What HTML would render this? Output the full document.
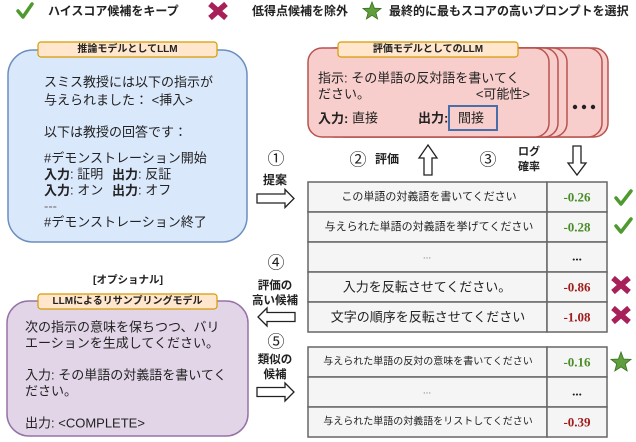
<!DOCTYPE html>
<html><head><meta charset="utf-8">
<style>
html,body{margin:0;padding:0;background:#fff;}
svg{display:block;}
text{font-family:"Liberation Sans","Noto Sans CJK JP",sans-serif;fill:#222;}
.b{font-weight:bold;}
.v{font-family:"Liberation Serif","Noto Serif CJK SC",serif;font-weight:bold;font-size:13px;}
.g{fill:#4a8c28;}
.r{fill:#a01c1c;}
</style></head>
<body>
<svg width="636" height="442" viewBox="0 0 636 442" xmlns="http://www.w3.org/2000/svg">
<!-- Legend -->
<path d="M18,11 L23,17 L32,4" fill="none" stroke="#4e9a2e" stroke-width="3.5" stroke-linecap="round" stroke-linejoin="round"/>
<text x="48" y="11" class="b" font-size="12" dominant-baseline="central">ハイスコア候補をキープ</text>
<g stroke="#a8205a" stroke-width="5.5" stroke-linecap="butt">
<line x1="210" y1="4" x2="226" y2="18"/><line x1="226" y1="4" x2="210" y2="18"/>
</g>
<text x="252" y="11" class="b" font-size="12" dominant-baseline="central">低得点候補を除外</text>
<polygon points="372,2 374.4,8.2 381,8.5 375.9,12.6 377.6,19 372,15.3 366.4,19 368.1,12.6 363,8.5 369.6,8.2" fill="#5e9e3c" stroke="#3b6e22" stroke-width="0.8"/>
<text x="389" y="11" class="b" font-size="12" dominant-baseline="central">最終的に最もスコアの高いプロンプトを選択</text>

<!-- Blue box -->
<rect x="8" y="50" width="239" height="192" rx="25" fill="#dae8fc" stroke="#6c8ebf" stroke-width="1.5"/>
<rect x="38" y="42" width="179" height="15" rx="3" fill="#ffe6cc" stroke="#d79b00" stroke-width="1.2"/>
<text x="127.5" y="49.5" class="b" font-size="10" text-anchor="middle" dominant-baseline="central">推論モデルとしてLLM</text>
<g font-size="13">
<text x="44" y="82" dominant-baseline="central">スミス教授には以下の指示が</text>
<text x="44" y="100" dominant-baseline="central">与えられました： &lt;挿入&gt;</text>
<text x="44" y="132" dominant-baseline="central">以下は教授の回答です：</text>
<text x="44" y="158" dominant-baseline="central">#デモンストレーション開始</text>
<text x="44" y="174" dominant-baseline="central"><tspan class="b">入力</tspan>: 証明</text>
<text x="112" y="174" dominant-baseline="central"><tspan class="b">出力</tspan>: 反証</text>
<text x="44" y="190" dominant-baseline="central"><tspan class="b">入力</tspan>: オン</text>
<text x="112" y="190" dominant-baseline="central"><tspan class="b">出力</tspan>: オフ</text>
<text x="44" y="206" dominant-baseline="central" style="fill:#666">---</text>
<text x="44" y="222" dominant-baseline="central">#デモンストレーション終了</text>
</g>

<!-- Red stacked boxes -->
<g fill="#f8cecc" stroke="#b85450" stroke-width="1.5">
<rect x="476" y="48" width="132" height="89" rx="14"/>
<rect x="470" y="48" width="132" height="89" rx="14"/>
<rect x="330" y="48" width="237" height="89" rx="14"/>
<rect x="320" y="48" width="238" height="89" rx="14"/>
<rect x="308" y="48" width="241" height="89" rx="14"/>
</g>
<g fill="#222"><circle cx="575" cy="107" r="2.2"/><circle cx="584" cy="107" r="2.2"/><circle cx="593" cy="107" r="2.2"/></g>
<rect x="338" y="42" width="180" height="15" rx="3" fill="#ffe6cc" stroke="#d79b00" stroke-width="1.2"/>
<text x="428" y="49.5" class="b" font-size="10" text-anchor="middle" dominant-baseline="central">評価モデルとしてのLLM</text>
<g font-size="13">
<text x="318" y="78" dominant-baseline="central">指示: その単語の反対語を書いてく</text>
<text x="318" y="94" dominant-baseline="central">ださい。</text>
<text x="530" y="94" dominant-baseline="central" text-anchor="end">&lt;可能性&gt;</text>
<text x="318" y="118" dominant-baseline="central"><tspan class="b">入力:</tspan> 直接</text>
<text x="418" y="118" dominant-baseline="central" class="b">出力:</text>
<text x="458" y="118" dominant-baseline="central">間接</text>
</g>
<rect x="449" y="106" width="48" height="24" fill="none" stroke="#4a6fa8" stroke-width="2"/>

<!-- Up / Down arrows -->
<polygon points="428,145 437,158 432,158 432,175 424,175 424,158 419,158" fill="#fff" stroke="#222" stroke-width="1.3"/>
<polygon points="573,146 581,146 581,163 586,163 577,175 568,163 573,163" fill="#fff" stroke="#222" stroke-width="1.3"/>
<text x="358" y="160" font-size="17" text-anchor="middle" dominant-baseline="central">②</text>
<text x="375" y="159" class="b" font-size="12" dominant-baseline="central">評価</text>
<text x="488" y="160" font-size="17" text-anchor="middle" dominant-baseline="central">③</text>
<text x="529" y="152" class="b" font-size="11" text-anchor="middle" dominant-baseline="central">ログ</text>
<text x="529" y="167" class="b" font-size="11" text-anchor="middle" dominant-baseline="central">確率</text>

<!-- Left labels and arrows -->
<text x="276" y="159" font-size="17" text-anchor="middle" dominant-baseline="central">①</text>
<text x="275" y="180" class="b" font-size="12" text-anchor="middle" dominant-baseline="central">提案</text>
<polygon points="257,194 285,194 285,189.5 294,198.5 285,207.5 285,203 257,203" fill="#fff" stroke="#222" stroke-width="1.3"/>

<text x="276" y="263" font-size="17" text-anchor="middle" dominant-baseline="central">④</text>
<text x="275" y="286" class="b" font-size="11.5" text-anchor="middle" dominant-baseline="central">評価の</text>
<text x="275" y="301" class="b" font-size="11.5" text-anchor="middle" dominant-baseline="central">高い候補</text>
<polygon points="295,312.5 267,312.5 267,308 258,317 267,326 267,321.5 295,321.5" fill="#fff" stroke="#222" stroke-width="1.3"/>

<text x="276" y="342" font-size="17" text-anchor="middle" dominant-baseline="central">⑤</text>
<text x="275" y="360" class="b" font-size="11.5" text-anchor="middle" dominant-baseline="central">類似の</text>
<text x="275" y="375" class="b" font-size="11.5" text-anchor="middle" dominant-baseline="central">候補</text>
<polygon points="257,387.5 285,387.5 285,383 294,392 285,401 285,396.5 257,396.5" fill="#fff" stroke="#222" stroke-width="1.3"/>

<!-- Table 1 -->
<g fill="#f5f5f5" stroke="#666" stroke-width="1.5">
<rect x="308" y="182" width="239" height="30"/><rect x="547" y="182" width="60" height="30"/>
<rect x="308" y="212" width="239" height="30"/><rect x="547" y="212" width="60" height="30"/>
<rect x="308" y="242" width="239" height="30"/><rect x="547" y="242" width="60" height="30"/>
<rect x="308" y="272" width="239" height="30"/><rect x="547" y="272" width="60" height="30"/>
<rect x="308" y="302" width="239" height="30"/><rect x="547" y="302" width="60" height="30"/>
</g>
<g text-anchor="middle">
<text x="429" y="197" font-size="11" dominant-baseline="central">この単語の対義語を書いてください</text>
<text x="429" y="227" font-size="11" dominant-baseline="central">与えられた単語の対義語を挙げてください</text>
<text x="427" y="256" font-size="10" dominant-baseline="central" style="fill:#777">...</text>
<text x="427" y="287" font-size="13" dominant-baseline="central">入力を反転させてください。</text>
<text x="428" y="317" font-size="13" dominant-baseline="central">文字の順序を反転させてください</text>
<text x="577" y="197" class="v g" dominant-baseline="central">-0.26</text>
<text x="577" y="227" class="v g" dominant-baseline="central">-0.28</text>
<text x="577" y="256" class="v" dominant-baseline="central">...</text>
<text x="577" y="287" class="v r" dominant-baseline="central">-0.86</text>
<text x="577" y="317" class="v r" dominant-baseline="central">-1.08</text>
</g>

<!-- Table 2 -->
<g fill="#f5f5f5" stroke="#666" stroke-width="1.5">
<rect x="308" y="347" width="239" height="30"/><rect x="547" y="347" width="60" height="30"/>
<rect x="308" y="377" width="239" height="30"/><rect x="547" y="377" width="60" height="30"/>
<rect x="308" y="407" width="239" height="30"/><rect x="547" y="407" width="60" height="30"/>
</g>
<g text-anchor="middle">
<text x="428" y="362" font-size="10" dominant-baseline="central">与えられた単語の反対の意味を書いてください</text>
<text x="427" y="391" font-size="10" dominant-baseline="central" style="fill:#777">...</text>
<text x="428" y="422" font-size="10" dominant-baseline="central">与えられた単語の対義語をリストしてください</text>
<text x="577" y="362" class="v g" dominant-baseline="central">-0.16</text>
<text x="577" y="391" class="v" dominant-baseline="central">...</text>
<text x="577" y="422" class="v r" dominant-baseline="central">-0.39</text>
</g>

<!-- Right icons -->
<g fill="none" stroke="#4e9a2e" stroke-width="3.5" stroke-linecap="round" stroke-linejoin="round">
<path d="M616,198 L621,204 L631,191"/>
<path d="M616,226 L621,232 L631,219"/>
</g>
<g stroke="#a8205a" stroke-width="5.5">
<line x1="613" y1="278" x2="629" y2="292"/><line x1="629" y1="278" x2="613" y2="292"/>
<line x1="613" y1="308" x2="629" y2="322"/><line x1="629" y1="308" x2="613" y2="322"/>
</g>
<polygon points="621,352 623.6,359 631,359.3 625.3,363.9 627.2,371 621,366.9 614.8,371 616.7,363.9 611,359.3 618.4,359" fill="#5e9e3c" stroke="#3b6e22" stroke-width="0.8"/>

<!-- Optional -->
<text x="128" y="280" class="b" font-size="10.5" text-anchor="middle" dominant-baseline="central">[オプショナル]</text>
<rect x="7" y="301" width="241" height="135" rx="22" fill="#e1d5e7" stroke="#9673a6" stroke-width="1.5"/>
<rect x="38" y="294" width="179" height="15" rx="3" fill="#ffe6cc" stroke="#d79b00" stroke-width="1.2"/>
<text x="127.5" y="301.5" class="b" font-size="10" text-anchor="middle" dominant-baseline="central">LLMによるリサンプリングモデル</text>
<g font-size="13">
<text x="25" y="327" dominant-baseline="central">次の指示の意味を保ちつつ、バリ</text>
<text x="25" y="343" dominant-baseline="central">エーションを生成してください。</text>
<text x="25" y="375" dominant-baseline="central">入力: その単語の対義語を書いてく</text>
<text x="25" y="391" dominant-baseline="central">ださい。</text>
<text x="25" y="423" dominant-baseline="central">出力: &lt;COMPLETE&gt;</text>
</g>
</svg>
</body></html>
